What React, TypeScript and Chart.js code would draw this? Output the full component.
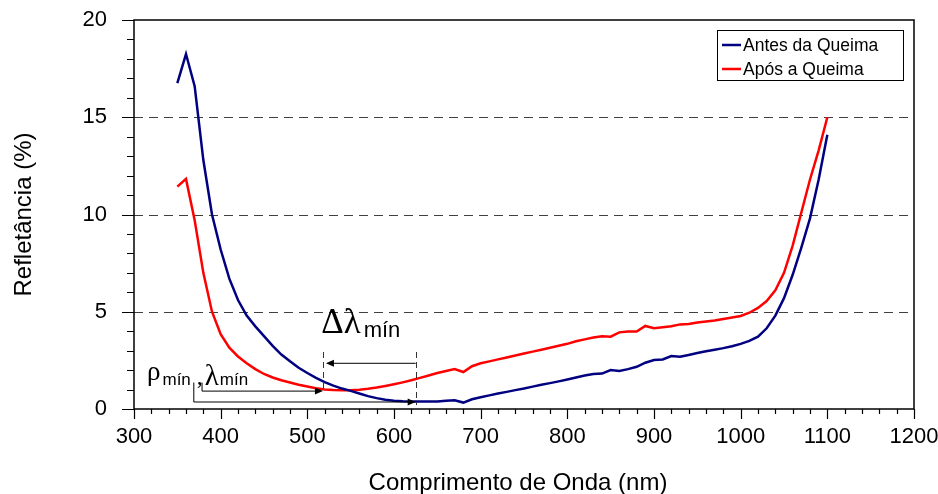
import React, { useEffect, useRef } from "react";
import { Chart, registerables } from "chart.js";

Chart.register(...registerables);

const wavelengths = [
  350, 360, 370, 380, 390, 400, 410, 420, 430, 440, 450, 460, 470, 480, 490, 500,
  510, 520, 530, 540, 550, 560, 570, 580, 590, 600, 610, 620, 630, 640, 650, 660,
  670, 680, 690, 700, 710, 720, 730, 740, 750, 760, 770, 780, 790, 800, 810, 820,
  830, 840, 850, 860, 870, 880, 890, 900, 910, 920, 930, 940, 950, 960, 970, 980,
  990, 1000, 1010, 1020, 1030, 1040, 1050, 1060, 1070, 1080, 1090, 1100,
];

const antesDaQueima = [
  16.75, 18.25, 16.6, 12.8, 10.0, 8.2, 6.7, 5.6, 4.8, 4.25, 3.75, 3.25, 2.8, 2.45, 2.12, 1.85,
  1.6, 1.38, 1.2, 1.05, 0.93, 0.8, 0.66, 0.56, 0.48, 0.43, 0.4, 0.38, 0.38, 0.38, 0.38, 0.43,
  0.45, 0.33, 0.5, 0.6, 0.7, 0.8, 0.88, 0.97, 1.05, 1.15, 1.25, 1.33, 1.42, 1.52, 1.62, 1.72,
  1.8, 1.82, 2.0, 1.95, 2.05, 2.17, 2.38, 2.52, 2.55, 2.72, 2.69, 2.78, 2.88, 2.97, 3.05, 3.13,
  3.23, 3.35, 3.5, 3.72, 4.15, 4.8, 5.7, 6.9, 8.3, 9.8, 11.8, 14.1,
];

const aposAQueima = [
  11.43, 11.83, 9.7, 7.0, 5.0, 3.85, 3.15, 2.7, 2.35, 2.05, 1.8, 1.62, 1.48, 1.36, 1.25, 1.16,
  1.07, 1.0, 0.98, 0.97, 0.96, 0.99, 1.04, 1.1, 1.18, 1.27, 1.37, 1.48, 1.6, 1.72, 1.85, 1.95,
  2.05, 1.9, 2.2, 2.35, 2.45, 2.55, 2.65, 2.75, 2.85, 2.95, 3.05, 3.15, 3.25, 3.35, 3.48, 3.58,
  3.68, 3.74, 3.72, 3.94, 3.99, 3.98, 4.27, 4.15, 4.2, 4.25, 4.35, 4.37, 4.45, 4.5, 4.55, 4.63,
  4.7, 4.78, 4.95, 5.2, 5.55, 6.1, 7.0, 8.4, 10.1, 11.8, 13.3, 15.0,
];

const seriesNames = ["Antes da Queima", "Após a Queima"];
const seriesColors = ["#000080", "#FF0000"];

const xMajorTicks = [300, 400, 500, 600, 700, 800, 900, 1000, 1100, 1200];
const xMinorStep = 20;
const yMajorTicks = [0, 5, 10, 15, 20];
const yMinorStep = 1;
const dashedGridValues = [5, 10, 15];

const xTitle = "Comprimento de Onda (nm)";
const yTitle = "Refletância (%)";

// annotation anchors (data units)
const lambdaMinApos = 518;
const lambdaMinAntes = 625;
const arrowApos = 0.92;
const arrowAntes = 0.36;
const bracketRhoX = 369;
const bracketLambdaX = 378.5;
const bracketTop = 1.36;
const deltaArrowY = 2.35;
const deltaDashTop = 2.93;
const deltaDashBottomApos = 0.87;
const deltaDashBottomAntes = 0.2;
const deltaLabelX = 516;
const deltaLabelY = 3.92;
const rhoLabelX = 315;
const rhoLabelY = 1.49;

const FONT = "'Liberation Sans', Arial, sans-serif";
const SERIF = "'Liberation Serif', 'DejaVu Serif', serif";

function arrowHead(ctx: CanvasRenderingContext2D, x: number, y: number, dir: number) {
  ctx.beginPath();
  ctx.moveTo(x, y);
  ctx.lineTo(x - dir * 8, y - 3.5);
  ctx.lineTo(x - dir * 8, y + 3.5);
  ctx.closePath();
  ctx.fill();
}

const decorPlugin = {
  id: "decor",
  beforeDatasetsDraw(chart: any) {
    const { ctx, chartArea: a, scales } = chart;
    const y = scales.y;
    ctx.save();
    ctx.strokeStyle = "#404040";
    ctx.lineWidth = 1.2;
    ctx.setLineDash([9, 6]);
    for (const v of dashedGridValues) {
      const py = Math.round(y.getPixelForValue(v)) + 0.5;
      ctx.beginPath();
      ctx.moveTo(a.left, py);
      ctx.lineTo(a.right, py);
      ctx.stroke();
    }
    ctx.restore();
  },
  afterDraw(chart: any) {
    const { ctx, chartArea: a, scales } = chart;
    const x = scales.x;
    const y = scales.y;
    const px = (v: number) => x.getPixelForValue(v);
    const py = (v: number) => y.getPixelForValue(v);
    ctx.save();

    // frame
    ctx.strokeStyle = "#000";
    ctx.lineWidth = 1.5;
    ctx.setLineDash([]);
    ctx.strokeRect(a.left, a.top, a.right - a.left, a.bottom - a.top);

    // x ticks
    ctx.lineWidth = 1.2;
    ctx.beginPath();
    const xmin = xMajorTicks[0];
    const xmax = xMajorTicks[xMajorTicks.length - 1];
    for (let v = xmin; v <= xmax + 0.001; v += xMinorStep) {
      const isMajor = xMajorTicks.includes(v);
      const p = Math.round(px(v)) + 0.5;
      ctx.moveTo(p, a.bottom);
      ctx.lineTo(p, a.bottom + (isMajor ? 10 : 5));
    }
    // y ticks
    const ymin = yMajorTicks[0];
    const ymax = yMajorTicks[yMajorTicks.length - 1];
    for (let v = ymin; v <= ymax + 0.001; v += yMinorStep) {
      const isMajor = yMajorTicks.includes(v);
      const p = Math.round(py(v)) + 0.5;
      ctx.moveTo(a.left, p);
      ctx.lineTo(a.left - (isMajor ? 12 : 7), p);
    }
    ctx.stroke();

    // axis titles
    ctx.fillStyle = "#000";
    ctx.font = `24px ${FONT}`;
    ctx.textAlign = "center";
    ctx.textBaseline = "alphabetic";
    ctx.fillText(xTitle, (a.left + a.right) / 2 - 6, 490);
    ctx.save();
    ctx.translate(31, (a.top + a.bottom) / 2);
    ctx.rotate(-Math.PI / 2);
    ctx.fillText(yTitle, 0, 0);
    ctx.restore();

    // legend
    const lx = a.right - 197;
    const ly = a.top + 10;
    ctx.lineWidth = 1;
    ctx.strokeStyle = "#000";
    ctx.strokeRect(Math.round(lx) + 0.5, Math.round(ly) + 0.5, 186, 50);
    ctx.font = `17.5px ${FONT}`;
    ctx.textAlign = "left";
    ctx.textBaseline = "middle";
    chart.data.datasets.forEach((ds: any, i: number) => {
      const rowY = ly + 15 + i * 24;
      ctx.strokeStyle = ds.borderColor;
      ctx.lineWidth = 2.5;
      ctx.beginPath();
      ctx.moveTo(lx + 5, rowY);
      ctx.lineTo(lx + 24, rowY);
      ctx.stroke();
      ctx.fillStyle = "#000";
      ctx.fillText(ds.label, lx + 26, rowY + 1);
    });

    // annotations
    ctx.strokeStyle = "#000";
    ctx.fillStyle = "#000";
    ctx.lineWidth = 1;
    ctx.beginPath();
    ctx.moveTo(px(bracketRhoX), py(bracketTop));
    ctx.lineTo(px(bracketRhoX), py(arrowAntes));
    ctx.lineTo(px(lambdaMinAntes) - 6, py(arrowAntes));
    ctx.moveTo(px(bracketLambdaX), py(bracketTop));
    ctx.lineTo(px(bracketLambdaX), py(arrowApos));
    ctx.lineTo(px(lambdaMinApos) - 6, py(arrowApos));
    ctx.moveTo(px(lambdaMinAntes), py(deltaArrowY));
    ctx.lineTo(px(lambdaMinApos) + 8, py(deltaArrowY));
    ctx.stroke();
    arrowHead(ctx, px(lambdaMinAntes), py(arrowAntes), 1);
    arrowHead(ctx, px(lambdaMinApos), py(arrowApos), 1);
    arrowHead(ctx, px(lambdaMinApos) + 3, py(deltaArrowY), -1);

    ctx.strokeStyle = "#333";
    ctx.setLineDash([6, 4]);
    ctx.beginPath();
    ctx.moveTo(Math.round(px(lambdaMinApos)) + 0.5, py(deltaDashTop));
    ctx.lineTo(Math.round(px(lambdaMinApos)) + 0.5, py(deltaDashBottomApos));
    ctx.moveTo(Math.round(px(lambdaMinAntes)) + 0.5, py(deltaDashTop));
    ctx.lineTo(Math.round(px(lambdaMinAntes)) + 0.5, py(deltaDashBottomAntes));
    ctx.stroke();
    ctx.setLineDash([]);

    ctx.textAlign = "left";
    ctx.textBaseline = "alphabetic";
    ctx.fillStyle = "#000";
    let tx = px(deltaLabelX);
    const tyD = py(deltaLabelY);
    ctx.font = `35px ${SERIF}`;
    ctx.fillText("Δλ", tx, tyD);
    tx += ctx.measureText("Δλ").width + 3;
    ctx.font = `22px ${FONT}`;
    ctx.fillText("mín", tx, tyD + 4);

    let rx = px(rhoLabelX);
    const ry = py(rhoLabelY);
    ctx.font = `27px ${SERIF}`;
    ctx.fillText("ρ", rx, ry);
    rx += ctx.measureText("ρ").width + 2;
    ctx.font = `17px ${FONT}`;
    ctx.fillText("mín", rx, ry + 5);
    rx += ctx.measureText("mín").width + 6;
    ctx.font = `24px ${SERIF}`;
    ctx.fillText(",", rx, ry + 4);
    rx += ctx.measureText(",").width + 2;
    ctx.font = `29px ${SERIF}`;
    ctx.fillText("λ", rx, ry + 5);
    rx += ctx.measureText("λ").width + 1;
    ctx.font = `17px ${FONT}`;
    ctx.fillText("mín", rx, ry + 5);

    ctx.restore();
  },
};

const zeroPad = (s: any) => {
  s.paddingTop = 0;
  s.paddingBottom = 0;
  s.paddingLeft = 0;
  s.paddingRight = 0;
};

export default function App() {
  const ref = useRef<HTMLCanvasElement | null>(null);
  useEffect(() => {
    document.body.style.margin = "0";
    if (!ref.current) return;
    const chart = new Chart(ref.current, {
      type: "line",
      data: {
        datasets: [
          {
            label: seriesNames[0],
            data: wavelengths.map((w, i) => ({ x: w, y: antesDaQueima[i] })),
            borderColor: seriesColors[0],
            backgroundColor: seriesColors[0],
            borderWidth: 2.5,
            pointRadius: 0,
            tension: 0,
          },
          {
            label: seriesNames[1],
            data: wavelengths.map((w, i) => ({ x: w, y: aposAQueima[i] })),
            borderColor: seriesColors[1],
            backgroundColor: seriesColors[1],
            borderWidth: 2.5,
            pointRadius: 0,
            tension: 0,
          },
        ],
      },
      options: {
        responsive: false,
        animation: false,
        events: [],
        layout: { padding: { left: 0, right: 24, top: 20, bottom: 0 } },
        plugins: { legend: { display: false }, tooltip: { enabled: false } },
        scales: {
          x: {
            type: "linear",
            min: xMajorTicks[0],
            max: xMajorTicks[xMajorTicks.length - 1],
            afterBuildTicks: (s: any) => {
              s.ticks = xMajorTicks.map((v) => ({ value: v }));
            },
            afterFit: (s: any) => {
              s.height = 85;
              zeroPad(s);
            },
            grid: { display: false, drawTicks: false },
            border: { display: false },
            ticks: {
              font: { family: FONT, size: 22 },
              color: "#000",
              padding: 15,
              maxRotation: 0,
              autoSkip: false,
              callback: (v: any) => String(v),
            },
          },
          y: {
            type: "linear",
            min: yMajorTicks[0],
            max: yMajorTicks[yMajorTicks.length - 1],
            afterBuildTicks: (s: any) => {
              s.ticks = yMajorTicks.map((v) => ({ value: v }));
            },
            afterFit: (s: any) => {
              s.width = 134;
              zeroPad(s);
            },
            grid: { display: false, drawTicks: false },
            border: { display: false },
            ticks: {
              font: { family: FONT, size: 22 },
              color: "#000",
              padding: 27,
              autoSkip: false,
              callback: (v: any) => String(v),
            },
          },
        },
      },
      plugins: [decorPlugin],
    });
    return () => chart.destroy();
  }, []);
  return (
    <div style={{ position: "absolute", left: 0, top: 0, width: 938, height: 494, background: "#fff" }}>
      <canvas ref={ref} width={938} height={494} style={{ width: 938, height: 494 }} />
    </div>
  );
}
